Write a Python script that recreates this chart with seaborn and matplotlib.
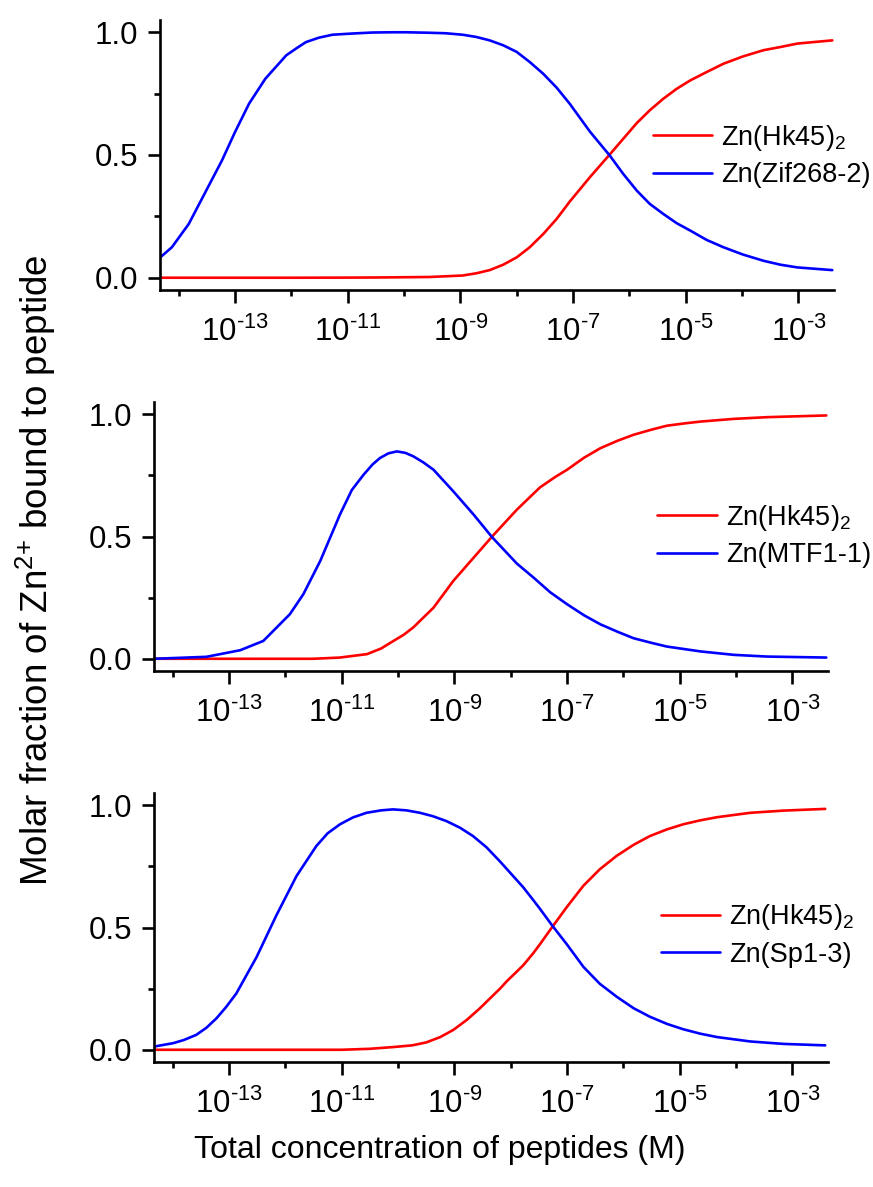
import numpy as np
import pandas as pd
import matplotlib
matplotlib.use("Agg")
import matplotlib.pyplot as plt
import seaborn as sns
from matplotlib.ticker import FixedLocator, FixedFormatter, NullFormatter

# ---------------------------------------------------------------------------
# Molar fraction of Zn(2+) bound to each peptide vs. log10 of the total
# peptide concentration (M).
# ---------------------------------------------------------------------------

# Panel 1: Hk45 competing with Zif268-2
zif_log_c = [-14.33, -14.12, -13.82, -13.54, -13.23, -13.00, -12.75, -12.46,
             -12.09, -11.92, -11.74, -11.51, -11.27, -10.91, -10.56, -10.20,
             -9.96, -9.55, -9.26, -8.96, -8.72, -8.48, -8.24, -8.00, -7.77,
             -7.53, -7.29, -7.06, -6.70, -6.35, -6.11, -5.87, -5.64, -5.40,
             -5.16, -4.92, -4.63, -4.33, -3.98, -3.62, -3.32, -3.02, -2.40]
zif_frac = [0.082, 0.124, 0.219, 0.342, 0.478, 0.593, 0.709, 0.811,
            0.906, 0.933, 0.960, 0.978, 0.990, 0.995, 0.999, 1.000,
            1.000, 0.998, 0.996, 0.990, 0.981, 0.967, 0.947, 0.920, 0.879,
            0.831, 0.774, 0.709, 0.595, 0.498, 0.423, 0.355, 0.301, 0.260,
            0.222, 0.192, 0.154, 0.124, 0.094, 0.069, 0.053, 0.042, 0.031]
hk45_zif_log_c = [-14.33, -12.00, -11.00, -10.50, -10.00, -9.55, -8.96, -8.72,
                  -8.48, -8.24, -8.00, -7.77, -7.53, -7.29, -7.06, -6.70,
                  -6.35, -6.11, -5.87, -5.64, -5.40, -5.16, -4.92, -4.63,
                  -4.33, -3.98, -3.62, -3.32, -3.02, -2.40]
hk45_zif_frac = [0.000, 0.000, 0.0005, 0.001, 0.002, 0.003, 0.009, 0.018,
                 0.031, 0.053, 0.083, 0.124, 0.178, 0.240, 0.310, 0.410,
                 0.502, 0.566, 0.630, 0.682, 0.729, 0.770, 0.804, 0.838,
                 0.872, 0.902, 0.927, 0.940, 0.954, 0.967]

# Panel 2: Hk45 competing with MTF1-1
mtf_log_c = [-14.33, -13.40, -12.80, -12.39, -11.92, -11.68, -11.38, -11.03,
             -10.82, -10.61, -10.45, -10.32, -10.17, -10.02, -9.87, -9.73,
             -9.55, -9.37, -9.02, -8.66, -8.33, -7.89, -7.59, -7.30, -7.00,
             -6.70, -6.41, -6.10, -5.82, -5.50, -5.23, -4.63, -4.04, -3.45,
             -2.40]
mtf_frac = [0.000, 0.008, 0.035, 0.073, 0.182, 0.264, 0.400, 0.590,
            0.690, 0.753, 0.795, 0.821, 0.840, 0.848, 0.842, 0.828,
            0.803, 0.773, 0.685, 0.590, 0.497, 0.389, 0.331, 0.272, 0.223,
            0.178, 0.141, 0.110, 0.084, 0.065, 0.050, 0.030, 0.016, 0.009,
            0.005]
hk45_mtf_log_c = [-14.33, -11.50, -11.03, -10.55, -10.30, -10.08, -9.90, -9.73,
                  -9.37, -9.02, -8.66, -8.33, -7.89, -7.48, -7.20, -7.00,
                  -6.70, -6.41, -6.10, -5.82, -5.50, -5.23, -4.90, -4.63,
                  -4.04, -3.45, -2.40]
hk45_mtf_frac = [0.000, 0.000, 0.005, 0.019, 0.042, 0.073, 0.098, 0.128,
                 0.209, 0.318, 0.413, 0.500, 0.610, 0.701, 0.745, 0.773,
                 0.822, 0.861, 0.892, 0.916, 0.937, 0.953, 0.963, 0.970,
                 0.981, 0.988, 0.995]

# Panel 3: Hk45 competing with Sp1-3
sp1_log_c = [-14.33, -13.99, -13.80, -13.58, -13.40, -13.22, -13.05, -12.87,
             -12.51, -12.16, -11.80, -11.45, -11.25, -11.03, -10.80, -10.56,
             -10.30, -10.09, -9.85, -9.61, -9.38, -9.14, -8.90, -8.67, -8.43,
             -8.19, -7.78, -7.60, -7.48, -7.27, -7.00, -6.71, -6.42, -6.12,
             -5.82, -5.53, -5.23, -4.94, -4.64, -4.34, -3.75, -3.16, -2.42]
sp1_frac = [0.013, 0.027, 0.040, 0.061, 0.090, 0.129, 0.175, 0.230,
            0.379, 0.549, 0.711, 0.833, 0.885, 0.922, 0.950, 0.969,
            0.979, 0.983, 0.979, 0.969, 0.955, 0.935, 0.908, 0.874, 0.828,
            0.770, 0.665, 0.612, 0.576, 0.510, 0.430, 0.339, 0.270, 0.217,
            0.170, 0.135, 0.106, 0.084, 0.066, 0.052, 0.034, 0.024, 0.018]
hk45_sp1_log_c = [-14.33, -11.00, -10.50, -10.09, -9.75, -9.50, -9.25, -9.02,
                  -8.78, -8.55, -8.19, -8.07, -7.78, -7.60, -7.48, -7.27,
                  -7.00, -6.71, -6.42, -6.12, -5.82, -5.53, -5.23, -4.94,
                  -4.64, -4.34, -3.75, -3.16, -2.42]
hk45_sp1_frac = [0.000, 0.000, 0.004, 0.011, 0.018, 0.030, 0.052, 0.081,
                 0.122, 0.169, 0.250, 0.280, 0.345, 0.395, 0.432, 0.500,
                 0.585, 0.671, 0.738, 0.793, 0.838, 0.874, 0.901, 0.922,
                 0.938, 0.951, 0.969, 0.978, 0.985]

hk45_label = "Zn(Hk45)$_2$"
partner_labels = ["Zn(Zif268-2)", "Zn(MTF1-1)", "Zn(Sp1-3)"]

# Axis ticks
major_exponents = [-13, -11, -9, -7, -5, -3]
minor_exponents = [-14, -12, -10, -8, -6, -4]
y_major = [0.0, 0.5, 1.0]
y_major_labels = ["0.0", "0.5", "1.0"]
y_minor = [0.25, 0.75]

x_label = "Total concentration of peptides (M)"
y_label = "Molar fraction of Zn$^{\\text{2+}}$ bound to peptide"

# ---------------------------------------------------------------------------
sns.set_style("ticks")
plt.rcParams.update({
    "font.family": ["Liberation Sans", "DejaVu Sans"],
    "mathtext.fontset": "custom",
    "mathtext.rm": "Liberation Sans",
    "mathtext.it": "Liberation Sans:italic",
    "mathtext.bf": "Liberation Sans:bold",
    "mathtext.default": "regular",
    "axes.unicode_minus": False,
    "axes.linewidth": 1.9,
    "axes.edgecolor": "black",
    "axes.labelcolor": "black",
    "text.color": "black",
    "xtick.color": "black",
    "ytick.color": "black",
})

W, H = 873, 1187
fig = plt.figure(figsize=(W / 100, H / 100), dpi=100)
fig.patch.set_facecolor("white")

# axes boxes in pixels: (left, top, right, bottom)
boxes = [(160, 20, 834, 290), (154, 402, 828, 671), (154, 793, 828, 1062)]
legend_anchor = [(0.731, 0.499), (0.747, 0.504), (0.752, 0.473)]

panels = [
    (hk45_zif_log_c, hk45_zif_frac, zif_log_c, zif_frac),
    (hk45_mtf_log_c, hk45_mtf_frac, mtf_log_c, mtf_frac),
    (hk45_sp1_log_c, hk45_sp1_frac, sp1_log_c, sp1_frac),
]

major_labels = ["$\\mathdefault{10^{\\text{-}%d}}$" % (-e) for e in major_exponents]

for i, (box, (rx, ry, bx, by)) in enumerate(zip(boxes, panels)):
    l, t, r, b = box
    ax = fig.add_axes([l / W, 1 - b / H, (r - l) / W, (b - t) / H])
    ax.set_facecolor("white")

    red = pd.DataFrame({"conc": 10.0 ** np.array(rx), "frac": ry})
    blue = pd.DataFrame({"conc": 10.0 ** np.array(bx), "frac": by})
    sns.lineplot(data=red, x="conc", y="frac", ax=ax, color="#ff0000",
                 linewidth=1.9, label=hk45_label, estimator=None)
    sns.lineplot(data=blue, x="conc", y="frac", ax=ax, color="#0000ff",
                 linewidth=1.9, label=partner_labels[i], estimator=None)

    ax.set_xscale("log")
    ax.set_xlim(10 ** -14.33, 10 ** -2.37)
    ax.set_ylim(-0.05, 1.05)

    ax.xaxis.set_major_locator(FixedLocator([10.0 ** e for e in major_exponents]))
    ax.xaxis.set_major_formatter(FixedFormatter(major_labels))
    ax.xaxis.set_minor_locator(FixedLocator([10.0 ** e for e in minor_exponents]))
    ax.xaxis.set_minor_formatter(NullFormatter())
    ax.yaxis.set_major_locator(FixedLocator(y_major))
    ax.yaxis.set_major_formatter(FixedFormatter(y_major_labels))
    ax.yaxis.set_minor_locator(FixedLocator(y_minor))

    ax.tick_params(which="major", direction="out", length=9, width=1.9,
                   labelsize=22.5, labelcolor="black")
    ax.tick_params(which="minor", direction="out", length=4.5, width=1.9)
    ax.tick_params(axis="x", which="major", pad=10)
    ax.tick_params(axis="y", which="major", pad=7)

    sns.despine(ax=ax)
    ax.set_xlabel("")
    ax.set_ylabel("")
    ax.grid(False)

    ax.legend(loc="center left", bbox_to_anchor=legend_anchor[i],
              frameon=False, fontsize=19.5, borderpad=0, borderaxespad=0,
              handlelength=2.2, handletextpad=0.33, labelspacing=0.35,
              labelcolor="black")

fig.text(440 / W, 1 - 1150 / H, x_label, ha="center", va="center", fontsize=23)
fig.text(36 / W, 1 - 570 / H, y_label, ha="center", va="center",
         rotation=90, fontsize=26.5)

fig.savefig("out.png", dpi=100, facecolor="white")
